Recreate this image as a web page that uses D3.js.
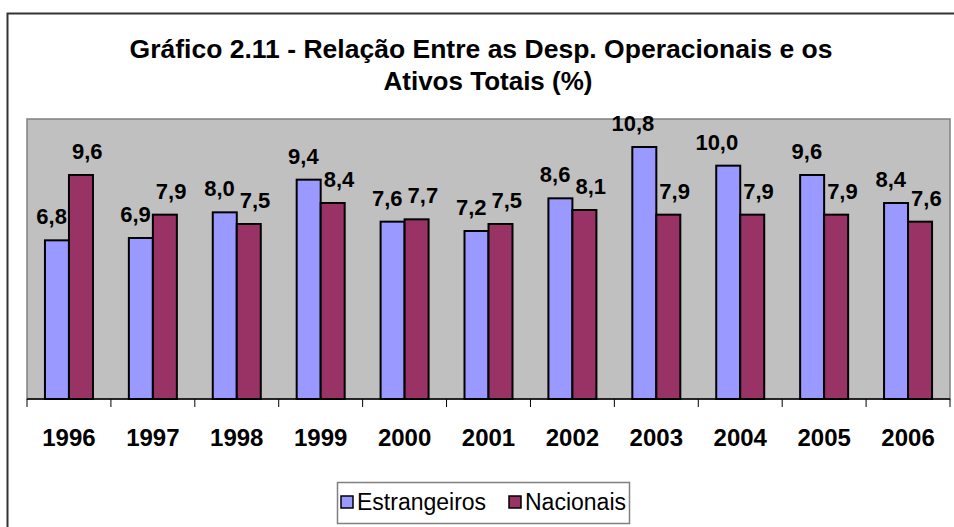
<!DOCTYPE html>
<html>
<head>
<meta charset="utf-8">
<script src="https://cdn.jsdelivr.net/npm/d3@7"></script>
<style>
  body { margin: 0; background: #fff; }
  text { font-family: "Liberation Sans", Arial, sans-serif; }
</style>
</head>
<body>
<svg id="chart" width="954" height="527"></svg>
<script>
var years = ['1996', '1997', '1998', '1999', '2000', '2001', '2002', '2003', '2004', '2005', '2006'];
var estrangeiros = [6.8, 6.9, 8.0, 9.4, 7.6, 7.2, 8.6, 10.8, 10.0, 9.6, 8.4];
var nacionais = [9.6, 7.9, 7.5, 8.4, 7.7, 7.5, 8.1, 7.9, 7.9, 7.9, 7.6];
var seriesNames = ['Estrangeiros', 'Nacionais'];
var colors = ['#9999ff', '#993366'];

var svg = d3.select('#chart');

// outer chart border (runs off right/bottom edge)
svg.append('rect')
    .attr('x', 7.5).attr('y', 13.5)
    .attr('width', 960).attr('height', 540)
    .attr('fill', 'none').attr('stroke', '#333').attr('stroke-width', 2);

// title
var title = svg.append('text')
    .attr('text-anchor', 'middle')
    .attr('font-weight', 'bold')
    .attr('font-size', 26)
    .attr('fill', '#000');
title.append('tspan').attr('x', 481).attr('y', 58)
    .attr('textLength', 703).attr('lengthAdjust', 'spacingAndGlyphs')
    .text('Gráfico 2.11 - Relação Entre as Desp. Operacionais e os');
title.append('tspan').attr('x', 488).attr('y', 90)
    .text('Ativos Totais (%)');

var plot = { left: 27, right: 950, top: 119, bottom: 399 };

var x = d3.scaleBand().domain(years).range([plot.left, plot.right]).padding(0);
var y = d3.scaleLinear().domain([0, 12]).range([plot.bottom, plot.top]);
var barW = x.bandwidth() * 0.286;

svg.append('rect')
    .attr('x', plot.left).attr('y', plot.top)
    .attr('width', plot.right - plot.left).attr('height', plot.bottom - plot.top)
    .attr('fill', '#c0c0c0').attr('stroke', '#808080').attr('stroke-width', 1.5);

var data = years.map(function(yr, i) {
    return { year: yr, values: [estrangeiros[i], nacionais[i]] };
});

var groups = svg.selectAll('g.year')
    .data(data)
    .join('g')
    .classed('year', true)
    .attr('transform', function(d) { return 'translate(' + (x(d.year) + x.bandwidth() / 2) + ',0)'; });

groups.selectAll('rect')
    .data(function(d) { return d.values; })
    .join('rect')
    .attr('x', function(d, i) { return i === 0 ? -barW : 0; })
    .attr('y', function(d) { return y(d); })
    .attr('width', barW)
    .attr('height', function(d) { return plot.bottom - y(d); })
    .attr('fill', function(d, i) { return colors[i]; })
    .attr('stroke', '#000')
    .attr('stroke-width', 2);

// labels: blue ones end near bar's right edge, red ones start near bar's left edge
groups.selectAll('text.val')
    .data(function(d) { return d.values; })
    .join('text')
    .classed('val', true)
    .attr('x', function(d, i) { return i === 0 ? -2 : 3; })
    .attr('y', function(d) { return y(d) - 16; })
    .attr('text-anchor', function(d, i) { return i === 0 ? 'end' : 'start'; })
    .attr('font-weight', 'bold')
    .attr('font-size', 22)
    .text(function(d) { return d.toFixed(1).replace('.', ','); });

// x axis
var axis = svg.append('g').attr('transform', 'translate(0,' + plot.bottom + ')');
axis.append('line')
    .attr('x1', plot.left).attr('x2', plot.right)
    .attr('stroke', '#000').attr('stroke-width', 1.5);
var ticks = years.map(function(yr) { return x(yr); }).concat([plot.right]);
axis.selectAll('line.tick')
    .data(ticks)
    .join('line')
    .classed('tick', true)
    .attr('x1', function(d) { return d; }).attr('x2', function(d) { return d; })
    .attr('y1', 0).attr('y2', 8)
    .attr('stroke', '#000').attr('stroke-width', 1);
axis.selectAll('text')
    .data(years)
    .join('text')
    .attr('x', function(d) { return x(d) + x.bandwidth() / 2; })
    .attr('y', 47)
    .attr('text-anchor', 'middle')
    .attr('font-weight', 'bold')
    .attr('font-size', 24)
    .text(function(d) { return d; });

// legend
var legend = svg.append('g');
legend.append('rect')
    .attr('x', 337.5).attr('y', 482.5).attr('width', 292).attr('height', 41)
    .attr('fill', '#fff').attr('stroke', '#808080').attr('stroke-width', 1.5);
var legendX = [341, 509];
var items = legend.selectAll('g.item')
    .data(seriesNames)
    .join('g')
    .classed('item', true)
    .attr('transform', function(d, i) { return 'translate(' + legendX[i] + ',496)'; });
items.append('rect')
    .attr('width', 12).attr('height', 12)
    .attr('fill', function(d, i) { return colors[i]; })
    .attr('stroke', '#000').attr('stroke-width', 1.5);
items.append('text')
    .attr('x', 16).attr('y', 14)
    .attr('font-size', 23)
    .text(function(d) { return d; });
</script>
</body>
</html>
